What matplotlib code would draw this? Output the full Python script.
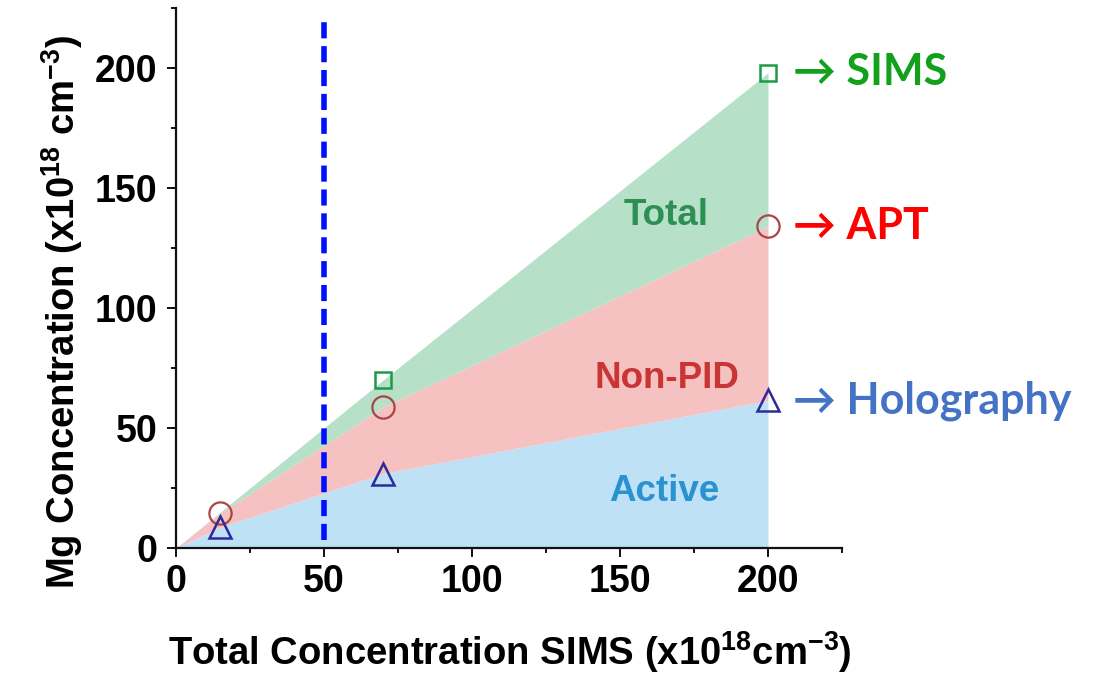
import matplotlib
matplotlib.use("Agg")
import matplotlib.pyplot as plt
from matplotlib.ticker import MultipleLocator

# ---- data (units of 1e18 cm^-3) ----
region_x = [0, 15, 70, 200]          # boundaries of the shaded regions
total_y = [0, 15, 70, 198]           # SIMS (total)
apt_y = [0, 14.6, 58.7, 134]         # APT (non-PID + active)
holo_y = [0, 8.7, 31, 61.5]          # holography (active)

sims_x = [70, 200]
sims_mg = [70, 198]
apt_x = [15, 70, 200]
apt_mg = [14.6, 58.7, 134]
holo_x = [15, 70, 200]
holo_mg = [8.7, 31, 61.5]

threshold_x = 50

region_labels = ["Total", "Non-PID", "Active"]
method_labels = ["SIMS", "APT", "Holography"]

# ---- fonts ----
base = "Liberation Sans"
plt.rcParams["mathtext.fontset"] = "custom"
plt.rcParams["mathtext.rm"] = f"{base}:bold"
plt.rcParams["mathtext.bf"] = f"{base}:bold"
plt.rcParams["mathtext.it"] = f"{base}:bold"

fig = plt.figure(figsize=(11.02, 6.8), dpi=100)
ax = fig.add_axes([176 / 1102, 132 / 680, 666 / 1102, 540 / 680])

c_green = "#b6e0c8"
c_pink = "#f6c2c1"
c_blue = "#bfe1f6"

ax.fill_between(region_x, 0, holo_y, color=c_blue, lw=0, zorder=1)
ax.fill_between(region_x, holo_y, apt_y, color=c_pink, lw=0, zorder=1)
ax.fill_between(region_x, apt_y, total_y, color=c_green, lw=0, zorder=1)

ax.plot(sims_x, sims_mg, ls="none", marker="s", ms=12, mfc="none",
        mec="#1c9a48", mew=1.8, zorder=4)
ax.plot(apt_x, apt_mg, ls="none", marker="o", ms=16, mfc="none",
        mec="#a84545", mew=1.6, zorder=4)
ax.plot(holo_x, holo_mg, ls="none", marker="^", ms=16, mfc="none",
        mec="#2b2b9c", mew=1.8, zorder=4)

ax.plot([threshold_x, threshold_x], [3.3, 220], color="#0010ff", lw=4,
        ls=(0, (2.9, 1.4)), zorder=3)

# labels inside regions
lab_font = dict(family=base, weight="bold", fontsize=26.5)
ax.text(165.5, 138.5, region_labels[0], color="#2e8f55", ha="center", va="center", **lab_font)
ax.text(166, 70.8, region_labels[1], color="#c93434", ha="center", va="center", **lab_font)
ax.text(165, 23.5, region_labels[2], color="#2a92d0", ha="center", va="center", **lab_font)

# method annotations to the right of the end points
m_font = dict(family=["Lato", "DejaVu Sans"], weight="bold", fontsize=31)
ax.text(208.3, 198.5, "\u2192 " + method_labels[0], color="#13a01c", ha="left",
        va="center", clip_on=False, **m_font)
ax.text(208.3, 134, "\u2192 " + method_labels[1], color="#ff0000", ha="left",
        va="center", clip_on=False, **m_font)
ax.text(208.3, 61.5, "\u2192 " + method_labels[2], color="#4472c4", ha="left",
        va="center", clip_on=False, **m_font)

ax.set_xlim(0, 225)
ax.set_ylim(0, 225)
ax.xaxis.set_major_locator(MultipleLocator(50))
ax.xaxis.set_minor_locator(MultipleLocator(25))
ax.yaxis.set_major_locator(MultipleLocator(50))
ax.yaxis.set_minor_locator(MultipleLocator(25))
ax.set_xticks([0, 50, 100, 150, 200])
ax.set_yticks([0, 50, 100, 150, 200])

for s in ("top", "right"):
    ax.spines[s].set_visible(False)
for s in ("left", "bottom"):
    ax.spines[s].set_linewidth(1.6)
    ax.spines[s].set_color("#111111")

ax.tick_params(which="major", direction="out", length=6.5, width=1.4,
               colors="#111111", labelsize=27)
ax.tick_params(axis="y", which="major", pad=7)
ax.tick_params(axis="x", which="major", pad=5)
ax.tick_params(which="minor", direction="out", length=3.5, width=1.4, colors="#111111")
for lbl in ax.get_xticklabels() + ax.get_yticklabels():
    lbl.set_family(base)
    lbl.set_weight("bold")
    lbl.set_color("black")

fig.text(510 / 1102, 1 - 652 / 680,
         "Total Concentration SIMS (x10$^{18}$cm$^{-3}$)",
         family=base, weight="bold", fontsize=27.5, ha="center", va="center")
fig.text(62 / 1102, 1 - 312 / 680,
         "Mg Concentration (x10$^{18}$ cm$^{-3}$)",
         family=base, weight="bold", fontsize=27.5, ha="center", va="center",
         rotation=90)

fig.savefig("out.png", dpi=100)
